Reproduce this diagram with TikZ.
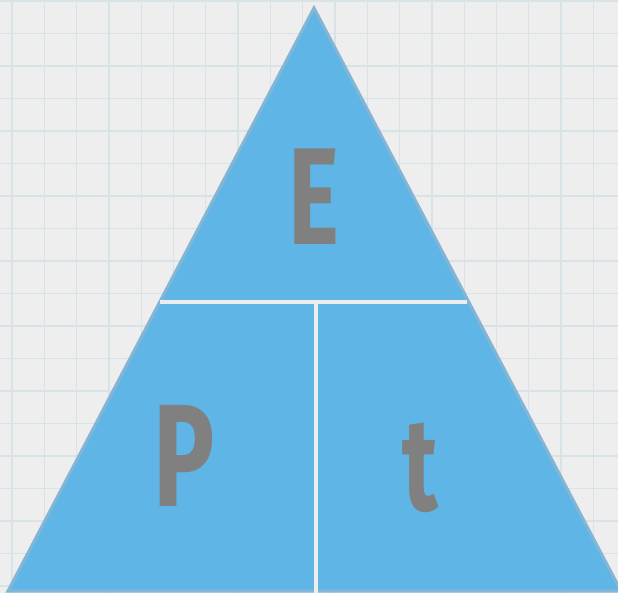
\documentclass[tikz,border=0pt]{standalone}
\usepackage{fontspec}
\setmainfont{Fira Sans}
\definecolor{bgc}{HTML}{EEEEEE}
\definecolor{gridc}{HTML}{D7E3E6}
\definecolor{trifill}{HTML}{58B3E6}
\definecolor{triedge}{HTML}{84B5D5}
\definecolor{divc}{HTML}{EDEDED}
\definecolor{letc}{HTML}{808080}
\tikzset{
  letter/.style={text=letc, font=\bfseries\fontsize{138}{138}\selectfont, anchor=base, inner sep=0pt, xscale=0.7, transform shape},
  divider/.style={draw=divc, line width=4.5pt},
}
\begin{document}
\begin{tikzpicture}[x=1pt,y=-1pt]
\useasboundingbox (0,0) rectangle (618,593);
\fill[bgc] (0,0) rectangle (618,593);
\foreach \i in {0,...,19} {
  \draw[gridc, line width=1.3pt] ({12+32.3*\i},0) -- ({12+32.3*\i},593);
  \draw[gridc, line width=1.3pt] (0,{1+32.5*\i}) -- (618,{1+32.5*\i});
}
\coordinate (apex) at (314,8);
\coordinate (bl) at (8,591);
\coordinate (br) at (621,591);
\filldraw[fill=trifill, fill opacity=0.95, draw=triedge, line width=3pt, line join=miter] (apex) -- (br) -- (bl) -- cycle;
\coordinate (hl) at (160,302);
\coordinate (hr) at (467,302);
\coordinate (vt) at (316,302);
\coordinate (vb) at (316,593);
\draw[divider] (hl) -- (hr);
\draw[divider] (vt) -- (vb);
\node[letter] (E) at (314,245) {E};
\node[letter, font=\bfseries\fontsize{146}{146}\selectfont] (P) at (184,506) {P};
\node[letter, font=\bfseries\fontsize{132}{132}\selectfont] (t) at (420,510) {t};
\end{tikzpicture}
\end{document}
